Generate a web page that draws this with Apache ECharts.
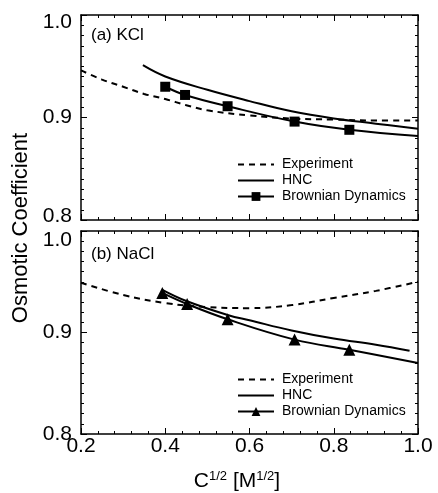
<!DOCTYPE html>
<html>
<head>
<meta charset="utf-8">
<script src="https://cdn.jsdelivr.net/npm/echarts@6/dist/echarts.min.js"></script>
<style>
	html, body { margin: 0; padding: 0; background: #fff; }
	#chart { width: 438px; height: 493px; }
</style>
</head>
<body>
<div id="chart"></div>
<script>
// axis ticks
const xTicks = [0.2, 0.4, 0.6, 0.8, 1.0];
const yTicks = [0.8, 0.9, 1.0];

// (a) KCl
const kclExperiment = [[0.2, 0.946], [0.25, 0.937], [0.3, 0.930], [0.35, 0.923], [0.4, 0.918], [0.45, 0.912], [0.5, 0.907], [0.6, 0.902], [0.7, 0.899], [0.8, 0.898], [0.9, 0.897], [1.0, 0.897]];
const kclHnc = [[0.347, 0.951], [0.4, 0.940], [0.5, 0.927], [0.6, 0.916], [0.7, 0.906], [0.8, 0.899], [0.9, 0.894], [1.0, 0.889]];
const kclBd = [[0.4, 0.930], [0.447, 0.922], [0.548, 0.911], [0.707, 0.896], [0.837, 0.888]];
const kclBdTail = [1.0, 0.882];

// (b) NaCl
const naclExperiment = [[0.2, 0.949], [0.3, 0.937], [0.4, 0.929], [0.5, 0.925], [0.6, 0.924], [0.7, 0.927], [0.8, 0.934], [0.9, 0.941], [1.0, 0.950]];
const naclHnc = [[0.393, 0.942], [0.45, 0.931], [0.55, 0.917], [0.6, 0.912], [0.7, 0.902], [0.8, 0.894], [0.9, 0.888], [0.98, 0.882]];
const naclBd = [[0.393, 0.939], [0.452, 0.928], [0.548, 0.913], [0.707, 0.893], [0.837, 0.883]];
const naclBdTail = [1.0, 0.870];

const FONT = 'Liberation Sans';

function xAxisFor(grid, withLabels){
	return [{
		type: 'value', gridIndex: grid, min: 0.2, max: 1.0, interval: 0.2,
		axisLine: { lineStyle: { color: '#000', width: 1.5 } },
		axisTick: { inside: true, length: 6, lineStyle: { color: '#000' } },
		minorTick: { show: true, splitNumber: 5, length: 3, lineStyle: { color: '#000' } },
		splitLine: { show: false },
		axisLabel: {
			show: withLabels, fontFamily: FONT, fontSize: 21, color: '#000', margin: 2,
			formatter: v => xTicks.includes(+v.toFixed(1)) ? v.toFixed(1) : ''
		}
	}, {
		type: 'value', gridIndex: grid, position: 'top', min: 0.2, max: 1.0, interval: 0.2,
		axisLine: { lineStyle: { color: '#000', width: 1.5 } },
		axisTick: { inside: true, length: 6, lineStyle: { color: '#000' } },
		minorTick: { show: true, splitNumber: 5, length: 3, lineStyle: { color: '#000' } },
		splitLine: { show: false },
		axisLabel: { show: false }
	}];
}

// nudges (px) for the end labels: the max label sits lower, the min label a bit higher
function yAxisFor(grid, maxDown, minUp){
	return [{
		type: 'value', gridIndex: grid, min: 0.8, max: 1.0, interval: 0.1,
		axisLine: { show: true, lineStyle: { color: '#000', width: 1.5 } },
		axisTick: { show: true, inside: true, length: 6, lineStyle: { color: '#000' } },
		minorTick: { show: true, splitNumber: 10, length: 3, lineStyle: { color: '#000' } },
		splitLine: { show: false },
		axisLabel: {
			fontFamily: FONT, fontSize: 21, color: '#000', margin: 9,
			formatter: v => {
				const s = v.toFixed(1);
				if(!yTicks.includes(+s)) return '';
				if(s === '1.0') return `{dn|${s}}`;
				if(s === '0.8') return `{up|${s}}`;
				return s;
			},
			rich: {
				dn: { fontFamily: FONT, fontSize: 21, color: '#000', padding: [maxDown * 2, 0, 0, 0] },
				up: { fontFamily: FONT, fontSize: 21, color: '#000', padding: [0, 0, minUp * 2, 0] }
			}
		}
	}, {
		type: 'value', gridIndex: grid, position: 'right', min: 0.8, max: 1.0, interval: 0.1,
		axisLine: { show: true, lineStyle: { color: '#000', width: 1.5 } },
		axisTick: { show: true, inside: true, length: 6, lineStyle: { color: '#000' } },
		minorTick: { show: true, splitNumber: 10, length: 3, lineStyle: { color: '#000' } },
		splitLine: { show: false },
		axisLabel: { show: false }
	}];
}

function panelSeries(prefix, axis, experiment, hnc, bd, bdTail, symbol, symbolSize){
	return [{
		name: prefix + '|Experiment', type: 'line', xAxisIndex: axis, yAxisIndex: axis,
		data: experiment, smooth: 0.4, showSymbol: false, symbol: 'none',
		lineStyle: { color: '#000', width: 2, type: [6, 5] }, itemStyle: { color: '#000' }
	}, {
		name: prefix + '|HNC', type: 'line', xAxisIndex: axis, yAxisIndex: axis,
		data: hnc, smooth: 0.4, showSymbol: false, symbol: 'none',
		lineStyle: { color: '#000', width: 2 }, itemStyle: { color: '#000' }
	}, {
		name: prefix + '|Brownian Dynamics', type: 'line', xAxisIndex: axis, yAxisIndex: axis,
		data: bd.map(p => ({ value: p })).concat([{ value: bdTail, symbol: 'none' }]),
		smooth: 0.4, symbol: symbol, symbolSize: symbolSize,
		lineStyle: { color: '#000', width: 2 }, itemStyle: { color: '#000', borderWidth: 0 }
	}];
}

function legendFor(prefix, top){
	// line-only entries hide the legend's default marker
	const noMarker = { color: 'rgba(0,0,0,0)', opacity: 0 };
	return {
		data: [
			{ name: prefix + '|Experiment', itemStyle: noMarker },
			{ name: prefix + '|HNC', itemStyle: noMarker },
			{ name: prefix + '|Brownian Dynamics' }
		],
		orient: 'vertical', left: 237, top: top, padding: 0,
		itemWidth: 36, itemHeight: 11, itemGap: 1,
		selectedMode: false,
		formatter: name => name.split('|')[1],
		textStyle: { fontFamily: FONT, fontSize: 14, color: '#000', lineHeight: 15, padding: [0, 0, 0, 3] }
	};
}

const chart = echarts.init(document.getElementById('chart'), null, { renderer: 'canvas' });
chart.setOption({
	backgroundColor: '#fff',
	animation: false,
	grid: [
		{ left: 81, right: 20, top: 15, height: 205 },
		{ left: 81, right: 20, top: 231, height: 203 }
	],
	title: [
		{ text: '(a) KCl', left: 91, top: 27, padding: 0, textStyle: { fontFamily: FONT, fontSize: 17, fontWeight: 'normal', color: '#000' } },
		{ text: '(b) NaCl', left: 91, top: 246, padding: 0, textStyle: { fontFamily: FONT, fontSize: 17, fontWeight: 'normal', color: '#000' } }
	],
	legend: [legendFor('KCl', 157), legendFor('NaCl', 372)],
	xAxis: xAxisFor(0, false).concat(xAxisFor(1, true)),
	yAxis: yAxisFor(0, 7, 4).concat(yAxisFor(1, 9, 0)),
	series: panelSeries('KCl', 0, kclExperiment, kclHnc, kclBd, kclBdTail, 'rect', 10)
		.concat(panelSeries('NaCl', 2, naclExperiment, naclHnc, naclBd, naclBdTail, 'triangle', 12)),
	graphic: [{
		type: 'text', rotation: Math.PI / 2,
		x: 21, y: 228,
		style: { text: 'Osmotic Coefficient', font: '22px "Liberation Sans"', fill: '#000', align: 'center', verticalAlign: 'middle' }
	}, {
		type: 'text', x: 237, y: 481,
		style: {
			text: '{b|C}{s|1/2}{b| [M}{s|1/2}{b|]}',
			rich: {
				b: { fontFamily: FONT, fontSize: 21, fill: '#000', verticalAlign: 'bottom' },
				s: { fontFamily: FONT, fontSize: 13, fill: '#000', verticalAlign: 'top', padding: [0, 0, 9, 0] }
			},
			align: 'center', verticalAlign: 'middle'
		}
	}]
});
</script>
</body>
</html>
